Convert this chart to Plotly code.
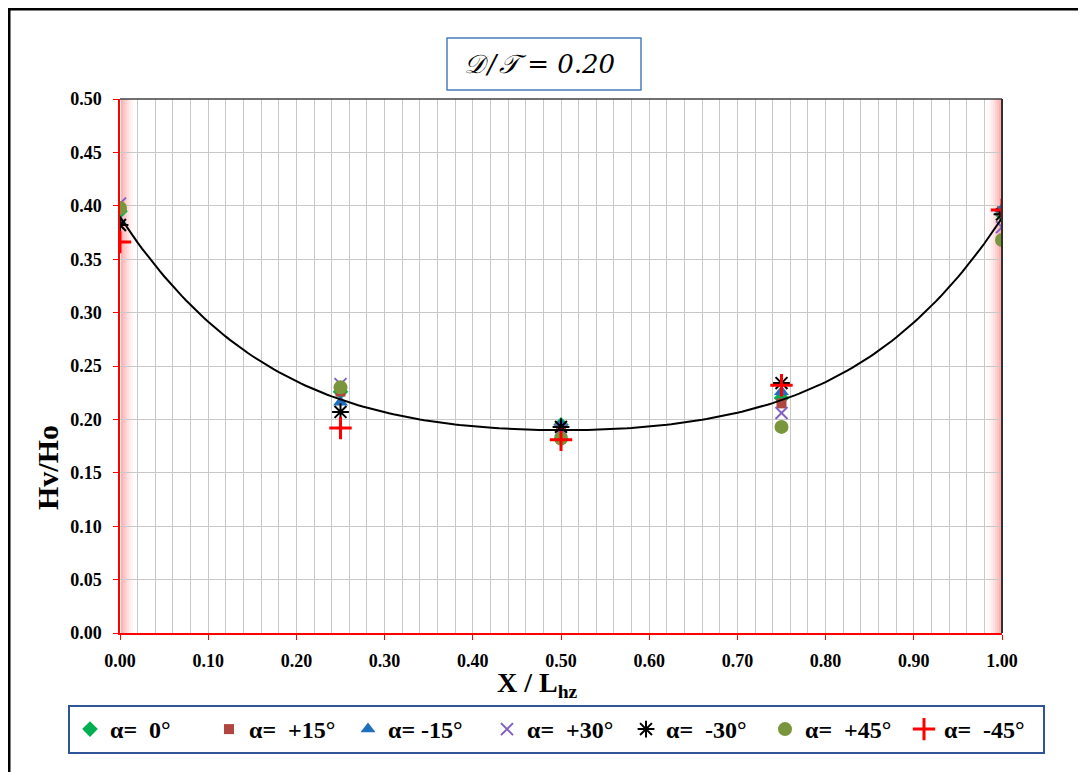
import numpy as np
import plotly.graph_objects as go

# ---- data ----
x_pos = [0.0, 0.25, 0.5, 0.75, 1.0]
a_0 = [0.395, 0.226, 0.195, 0.220, 0.392]
a_p15 = [0.398, 0.226, 0.193, 0.215, 0.395]
a_m15 = [0.385, 0.216, 0.195, 0.226, 0.397]
a_p30 = [0.402, 0.233, 0.190, 0.206, 0.380]
a_m30 = [0.382, 0.207, 0.193, 0.234, 0.392]
a_p45 = [0.398, 0.230, 0.182, 0.193, 0.368]
a_m45 = [0.366, 0.192, 0.181, 0.232, 0.396]

series_names = ["α=  0°", "α=  +15°", "α= -15°", "α=  +30°", "α=  -30°", "α=  +45°", "α=  -45°"]
series_vals = [a_0, a_p15, a_m15, a_p30, a_m30, a_p45, a_m45]
title_text = "𝒟\u200a/\u200a𝒯 = 0.20"

# ---- styles ----
styles = [
    dict(symbol="diamond", color="#00B050", size=12, line=dict(width=0)),
    dict(symbol="square", color="#B0463F", size=10, line=dict(width=0)),
    dict(symbol="triangle-up", color="#1F6FBF", size=13, line=dict(width=0)),
    dict(symbol="x-thin-open", color="#8060C0", size=12, line=dict(width=2, color="#8060C0")),
    dict(symbol="asterisk-open", color="black", size=14, line=dict(width=2, color="black")),
    dict(symbol="circle", color="#7A963C", size=14, line=dict(width=0)),
    dict(symbol="cross-thin-open", color="#FF0000", size=16, line=dict(width=3, color="#FF0000")),
]

fig = go.Figure()
for name, vals, st in zip(series_names, series_vals, styles):
    fig.add_trace(go.Scatter(x=x_pos, y=vals, mode="markers", name=name, marker=st))

# trendline: 4th-order polynomial fitted to all points
all_x = np.concatenate([x_pos] * len(series_vals))
all_y = np.concatenate(series_vals)
coef = np.polyfit(all_x, all_y, 4)
xf = np.linspace(0, 1, 201)
fig.add_trace(go.Scatter(x=xf, y=np.polyval(coef, xf), mode="lines",
                         line=dict(color="black", width=2), showlegend=False, hoverinfo="skip"))

OFF = 8  # page body margin
W, H = 1086 - OFF, 772 - OFF
L, R, T, B = 120 - OFF, 84, 99 - OFF, 139
pw, ph = W - L - R, H - T - B


def px(xp):  # page pixel -> paper
    return (xp - OFF - L) / pw


def py(yp):
    return (H - B - (yp - OFF)) / ph


font_fam = "Liberation Serif"
tickfont = dict(family=font_fam, size=18, color="black", weight="bold")

shapes = []
# pink gradient along left and right edges
for i in range(7):
    op = 0.30 * (1 - i / 7) ** 1.6
    shapes.append(dict(type="rect", xref="paper", yref="paper", layer="below",
                       x0=px(120 + 1 + 2 * i), x1=px(120 + 3 + 2 * i), y0=0, y1=1,
                       fillcolor="red", opacity=op, line=dict(width=0)))
    shapes.append(dict(type="rect", xref="paper", yref="paper", layer="below",
                       x0=px(1002 - 3 - 2 * i), x1=px(1002 - 1 - 2 * i), y0=0, y1=1,
                       fillcolor="red", opacity=op, line=dict(width=0)))
# top and right plot border (dark)
shapes.append(dict(type="line", xref="paper", yref="paper", x0=0, x1=1, y0=1, y1=1,
                   line=dict(color="#404040", width=1.5)))
shapes.append(dict(type="line", xref="paper", yref="paper", x0=1, x1=1, y0=0, y1=1,
                   line=dict(color="#303030", width=2)))
# outer frame: top and left
shapes.append(dict(type="line", xref="paper", yref="paper", x0=px(8), x1=px(1090), y0=py(9), y1=py(9),
                   line=dict(color="black", width=3)))
shapes.append(dict(type="line", xref="paper", yref="paper", x0=px(9), x1=px(9), y0=py(8), y1=py(780),
                   line=dict(color="black", width=3)))
# title box
shapes.append(dict(type="rect", xref="paper", yref="paper", x0=px(447), x1=px(641), y0=py(90), y1=py(38),
                   line=dict(color="#4A7EBB", width=1.5), fillcolor="white"))

annotations = [
    dict(text=title_text, xref="paper", yref="paper", x=px(462), y=py(64), showarrow=False,
         font=dict(family="DejaVu Serif", size=26, color="black", style="italic"),
         xanchor="left", yanchor="middle"),
    dict(text="X / L<sub>hz</sub>", xref="paper", yref="paper", x=px(537), y=py(684), showarrow=False,
         font=dict(family=font_fam, size=28, color="black", weight="bold"),
         xanchor="center", yanchor="middle"),
    dict(text="Hv/Ho", xref="paper", yref="paper", x=px(47), y=py(468), showarrow=False, textangle=-90,
         font=dict(family=font_fam, size=30, color="black", weight="bold"),
         xanchor="center", yanchor="middle"),
]

fig.update_layout(
    width=W, height=H,
    margin=dict(l=L, r=R, t=T, b=B),
    paper_bgcolor="white", plot_bgcolor="white",
    shapes=shapes, annotations=annotations,
    showlegend=True,
    legend=dict(orientation="h", x=px(68), y=py(705), xanchor="left", yanchor="top",
                bordercolor="#2F5597", borderwidth=2, bgcolor="white",
                font=dict(family=font_fam, size=24, color="black", weight="bold"),
                entrywidth=94, entrywidthmode="pixels", itemwidth=30),
    xaxis=dict(range=[0, 1], dtick=0.1, tick0=0, tickformat=".2f", showgrid=True,
               gridcolor="#C8C8C8", gridwidth=1, zeroline=False,
               showline=True, linecolor="#FF0000", linewidth=1.5,
               ticks="outside", ticklen=5, tickcolor="#FF0000",
               tickfont=tickfont, ticklabelstandoff=6,
               minor=dict(dtick=0.02, showgrid=True, gridcolor="#C8C8C8", gridwidth=1)),
    yaxis=dict(range=[0, 0.5], dtick=0.05, tick0=0, tickformat=".2f", showgrid=True,
               gridcolor="#C8C8C8", gridwidth=1, zeroline=False,
               showline=True, linecolor="#FF0000", linewidth=1.5,
               ticks="outside", ticklen=5, tickcolor="#FF0000",
               tickfont=tickfont, ticklabelstandoff=8),
)

fig.write_html("out.html")
